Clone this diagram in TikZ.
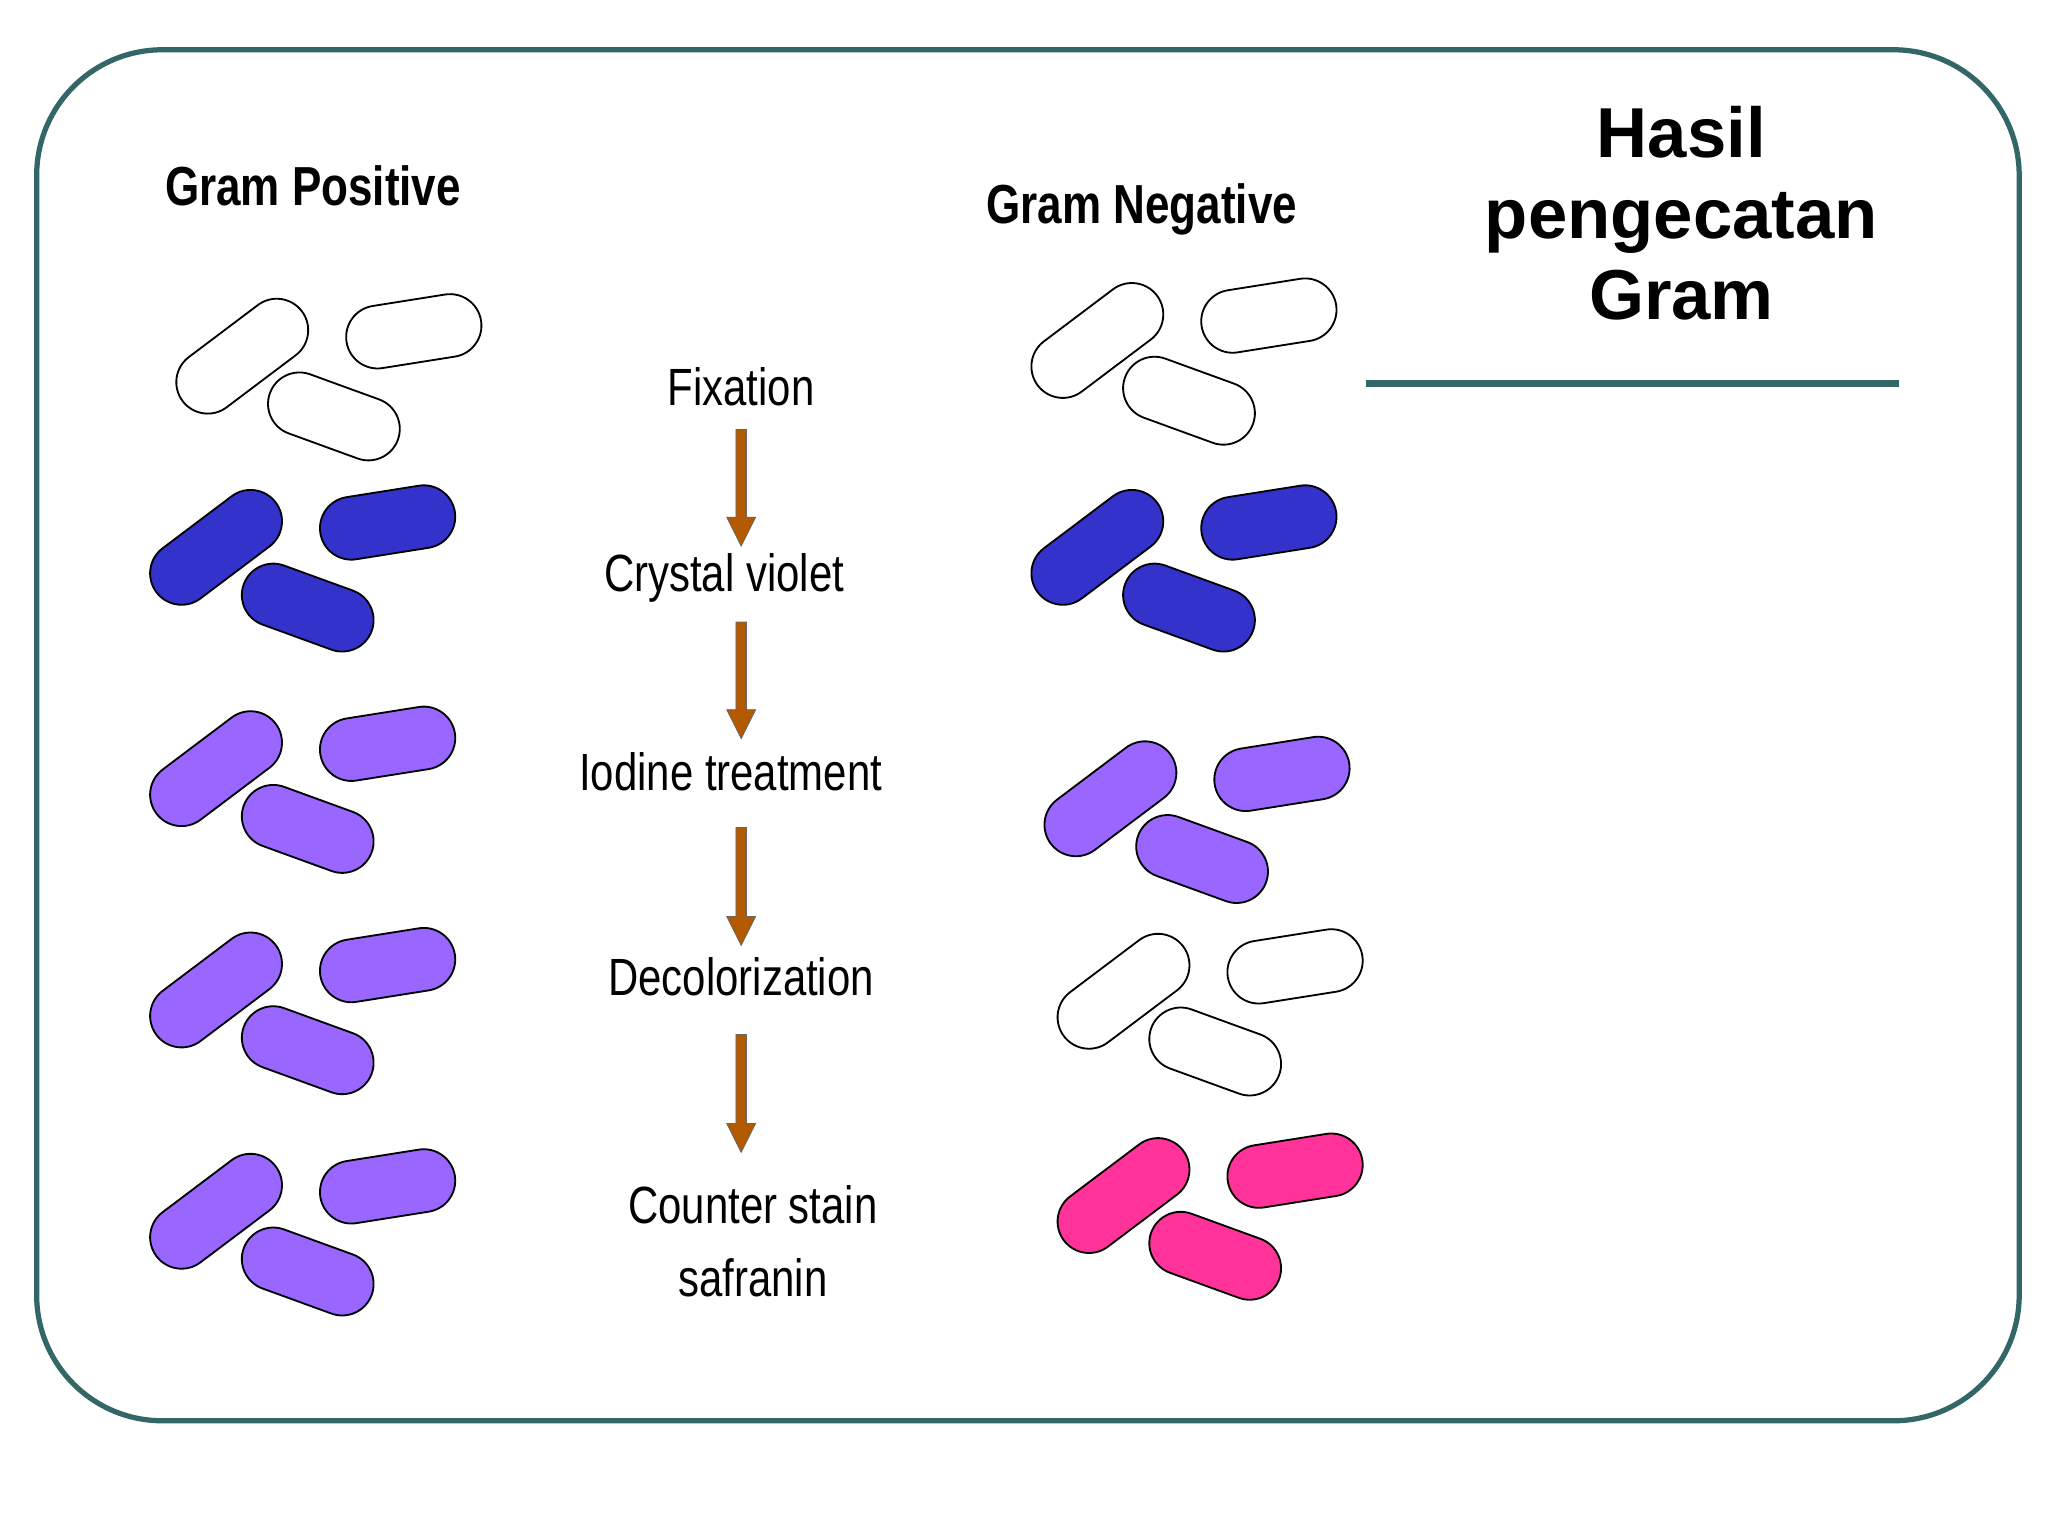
\documentclass[tikz,border=0pt]{standalone}
\usepackage{fontspec}
\setmainfont{Liberation Sans}
\begin{document}
\begin{tikzpicture}[x=0.5pt,y=-0.5pt,
  bact/.style={draw=black,line width=0.7pt,rounded corners=12pt,minimum height=24pt,inner sep=0pt},
  arr/.style={draw=black!70,fill=brown!70!orange,line width=0.4pt},
  lbl/.style={font=\fontsize{20}{24}\selectfont,inner sep=0pt},
  hdr/.style={font=\bfseries\fontsize{21}{24}\selectfont,inner sep=0pt}]
\definecolor{frame}{HTML}{336666}
\definecolor{cv}{HTML}{3333CC}
\definecolor{io}{HTML}{9966FF}
\definecolor{pk}{HTML}{FF3399}
\definecolor{arrc}{HTML}{B35900}
\useasboundingbox (0,0) rectangle (1564,1173);
\draw[frame,line width=2pt,rounded corners=48pt] (28,38) rectangle (1542,1085);
\draw[frame,line width=2.5pt] (1043,293) -- (1450,293);
\node[font=\bfseries\fontsize{27}{31}\selectfont,align=center] (title) at (1284,163) {Hasil\\pengecatan\\Gram};
\node[hdr] (gp) at (239,142) {\scalebox{0.8}[1]{Gram Positive}};
\node[hdr] (gn) at (872,160) {\scalebox{0.8}[1]{Gram Negative}};
% clusters
\newcommand{\clus}[4]{%
 \node[bact,fill=#3,minimum width=57pt,rotate=37] (#4a) at (#1,#2) {};
 \node[bact,fill=#3,minimum width=52pt,rotate=9] (#4b) at (#1+131,#2-19) {};
 \node[bact,fill=#3,minimum width=52pt,rotate=-20] (#4c) at (#1+70,#2+46) {};}
\clus{185}{272}{white}{p1}
\clus{165}{418}{cv}{p2}
\clus{165}{587}{io}{p3}
\clus{165}{756}{io}{p4}
\clus{165}{925}{io}{p5}
\clus{838}{260}{white}{n1}
\clus{838}{418}{cv}{n2}
\clus{848}{610}{io}{n3}
\clus{858}{757}{white}{n4}
\clus{858}{913}{pk}{n5}
% steps
\node[lbl] (s1) at (566,295) {\scalebox{0.8}[1]{Fixation}};
\node[lbl] (s2) at (553,441) {\scalebox{0.8}[1]{Crystal violet}};
\node[lbl] (s3) at (558,589) {\scalebox{0.8}[1]{Iodine treatment}};
\node[lbl] (s4) at (566,746) {\scalebox{0.8}[1]{Decolorization}};
\node[lbl,align=center] (s5) at (575,948) {\scalebox{0.8}[1]{Counter stain}\\[4pt]\scalebox{0.8}[1]{safranin}};
\newcommand{\barrow}[2]{%
 \fill[arrc,draw=black!60,line width=0.3pt] (562,#1) -- (570,#1) -- (570,#2-22) -- (577,#2-22) -- (566,#2) -- (555,#2-22) -- (562,#2-22) -- cycle;}
\barrow{328}{417}
\barrow{475}{564}
\barrow{632}{722}
\barrow{790}{880}
\end{tikzpicture}
\end{document}
